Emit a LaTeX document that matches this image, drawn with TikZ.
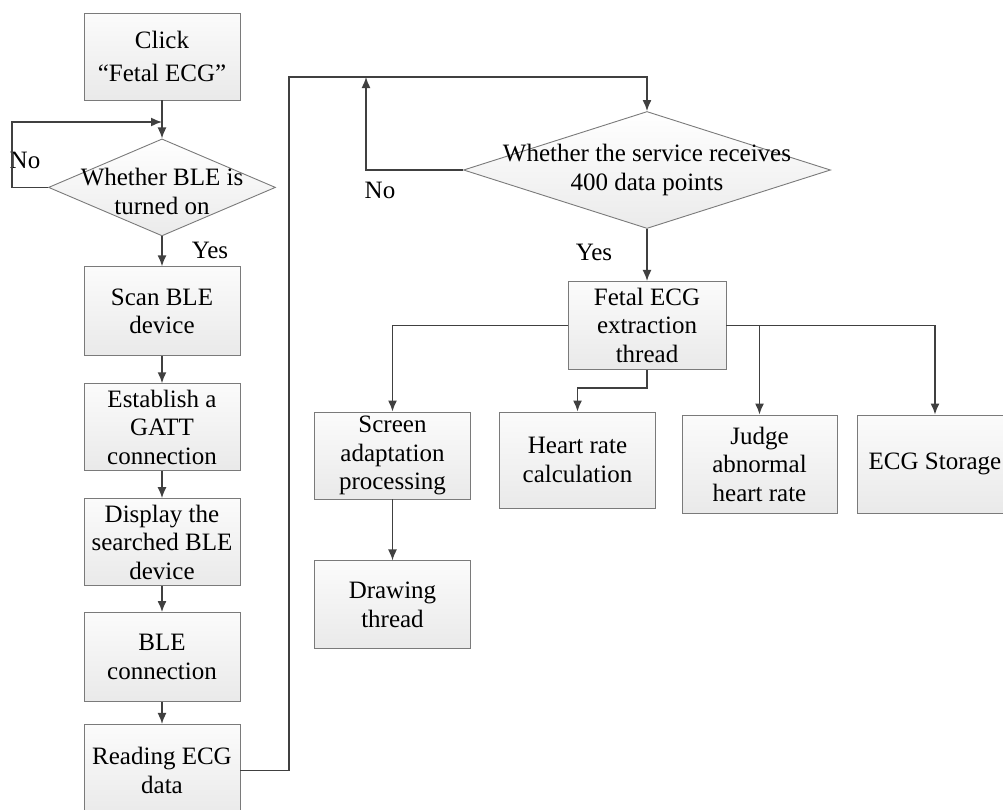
\documentclass[tikz,border=0pt]{standalone}
\usepackage{fontspec}
\setmainfont{Liberation Serif}
\usetikzlibrary{positioning,arrows.meta,shapes.geometric}
\definecolor{linegray}{HTML}{404040}
\definecolor{edgegray}{HTML}{7A7A7A}

\begin{document}
\begin{tikzpicture}[
  x=1pt, y=-1pt,
  node distance=27pt,
  every node/.style={font=\fontsize{25pt}{28.5pt}\selectfont},
  box/.style={draw=edgegray, line width=0.9pt, top color=gray!3, bottom color=gray!17,
              minimum width=156pt, minimum height=87pt, inner sep=1pt, align=center},
  cond/.style={diamond, draw=edgegray, line width=0.9pt, top color=white,
               bottom color=gray!16, inner sep=0pt},
  yn/.style={inner sep=0pt, align=center},
  arr/.style={-{Latex[length=11pt,width=9pt]}, line width=1.5pt, draw=linegray}
]
\useasboundingbox (0,0) rectangle (1003,809);

% ===== Left column: connecting to the BLE device =====
\node[box] (click) at (162,56.5) {Click\\[4pt]“Fetal ECG”};
\node[cond, minimum width=227pt, minimum height=97pt, below=38pt of click,
      label={[yn,yshift=-4pt]center:Whether BLE is\\turned on}] (ble) {};
\node[box, minimum height=89pt, below=30pt of ble] (scan) {Scan BLE\\device};
\node[box, below=of scan]                       (gatt) {Establish a\\GATT\\connection};
\node[box, below=of gatt]                       (disp) {Display the\\searched BLE\\device};
\node[box, minimum height=89pt, below=26pt of disp] (conn) {BLE\\connection};
\node[box, minimum height=92pt, below=22pt of conn] (read) {Reading ECG\\data};

\node[yn] (no1)  at (25,160)  {No};
\node[yn] (yes1) at (210,250) {Yes};
\coordinate (loopL) at (12,122);

\draw[arr] (click) -- (ble);
\draw[arr] (ble.west) -| (loopL) -- (loopL -| ble.north);
\draw[arr] (ble) -- (scan);
\draw[arr] (scan) -- (gatt);
\draw[arr] (gatt) -- (disp);
\draw[arr] (disp) -- (conn);
\draw[arr] (conn) -- (read);

% ===== Right part: data service and worker threads =====
\node[cond, minimum width=367pt, minimum height=117pt,
      label={[yn]center:Whether the service receives\\400 data points}] (svc) at (647,170) {};
\node[box, minimum width=158pt, minimum height=88pt, below=52pt of svc] (fetal) {Fetal ECG\\extraction\\thread};
\node[box] (screen) at (392.5,455.5) {Screen\\adaptation\\processing};
\node[box, minimum height=88pt, below=61pt of screen] (drawthr) {Drawing\\thread};
\node[box, minimum height=96pt] (heart) at (577.5,460) {Heart rate\\calculation};
\node[box, minimum width=155pt, minimum height=98pt] (judge) at (759.5,464) {Judge\\abnormal\\heart rate};
\node[box, minimum height=98pt] (store) at (935,464) {ECG Storage};

\node[yn] (no2)  at (380,190) {No};
\node[yn] (yes2) at (594,252) {Yes};
\coordinate (bus)  at (289,77);
\coordinate (busR) at (366,77);

\draw[arr] (read.east) -- (read.east -| bus) -- (bus) -| (svc.north);
\draw[arr] (svc.west) -| (busR);
\draw[arr] (svc) -- (fetal);
\draw[arr] (fetal.west) -| (screen.north);
\draw[arr] (fetal.south) -- ++(0,18) -| (heart.north);
\draw[arr] (fetal.east) -| (judge.north);
\draw[arr] (fetal.east) -| (store.north);
\draw[arr] (screen) -- (drawthr);

\end{tikzpicture}
\end{document}
